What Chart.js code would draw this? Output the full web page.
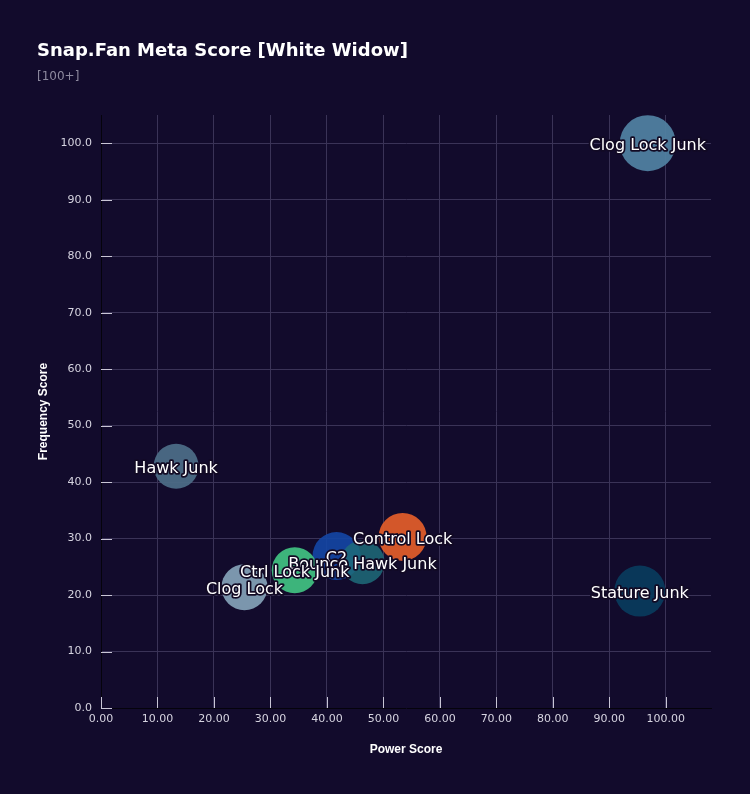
<!DOCTYPE html>
<html>
<head>
<meta charset="utf-8">
<script src="https://cdn.jsdelivr.net/npm/chart.js@4.4.1/dist/chart.umd.min.js"></script>
<style>
  html, body { margin: 0; padding: 0; background: #120b2c; }
  #wrap { position: relative; width: 750px; height: 794px; background: #120b2c; }
  #title { position: absolute; left: 37px; top: 39px; font: bold 18px "DejaVu Sans", sans-serif; color: #ffffff; line-height: 21px; white-space: nowrap; }
  #subtitle { position: absolute; left: 37px; top: 69px; font: 12px "DejaVu Sans", sans-serif; color: #8d899e; line-height: 15px; }
  canvas { position: absolute; left: 0; top: 0; }
</style>
</head>
<body>
<div id="wrap">
  <canvas id="c" width="750" height="794"></canvas>
  <div id="title">Snap.Fan Meta Score [White Widow]</div>
  <div id="subtitle">[100+]</div>
</div>
<script>
// ---- data ----
const deckNames = ["Clog Lock Junk", "Stature Junk", "Hawk Junk", "Control Lock", "C2", "Bounce Hawk Junk", "Ctrl Lock Junk", "Clog Lock"];
const powerScore = [96.8, 95.4, 13.3, 53.4, 41.7, 46.3, 34.3, 25.4];
const frequencyScore = [100.0, 20.7, 42.8, 30.3, 26.9, 25.8, 24.4, 21.4];
const bubbleSize = [28, 25.5, 22.5, 24, 24, 22, 23, 23];
const bubbleColors = ["rgba(80,127,160,0.95)", "rgba(10,58,92,0.95)", "rgba(76,108,134,0.95)", "rgba(222,92,42,0.95)", "rgba(20,70,165,0.9)", "rgba(30,108,122,0.85)", "rgba(64,190,128,0.95)", "rgba(130,158,180,0.95)"];
const xTickValues = [0, 10, 20, 30, 40, 50, 60, 70, 80, 90, 100];
const yTickValues = [0, 10, 20, 30, 40, 50, 60, 70, 80, 90, 100];

const points = deckNames.map((n, i) => ({ x: powerScore[i], y: frequencyScore[i], r: bubbleSize[i] }));

const innerTicks = {
  id: 'innerTicks',
  beforeDatasetsDraw(chart) {
    const { ctx, scales: { x, y }, chartArea } = chart;
    ctx.save();
    ctx.strokeStyle = '#c9c6d6';
    ctx.lineWidth = 1;
    ctx.beginPath();
    xTickValues.forEach(v => {
      const px = Math.round(x.getPixelForValue(v)) + 0.5;
      ctx.moveTo(px, chartArea.bottom);
      ctx.lineTo(px, chartArea.bottom - 11);
    });
    yTickValues.forEach(v => {
      const py = Math.round(y.getPixelForValue(v)) + 0.5;
      ctx.moveTo(chartArea.left, py);
      ctx.lineTo(chartArea.left + 11, py);
    });
    ctx.stroke();
    ctx.restore();
  }
};

const bubbleLabels = {
  id: 'bubbleLabels',
  afterDatasetsDraw(chart) {
    const { ctx } = chart;
    const meta = chart.getDatasetMeta(0);
    ctx.save();
    ctx.font = '16px "DejaVu Sans", sans-serif';
    ctx.textAlign = 'center';
    ctx.textBaseline = 'middle';
    ctx.lineJoin = 'round';
    meta.data.forEach((el, i) => {
      const px = el.x, py = el.y + 3;
      ctx.strokeStyle = '#120a24';
      ctx.lineWidth = 3.5;
      ctx.strokeText(deckNames[i], px, py);
      ctx.fillStyle = '#ffffff';
      ctx.fillText(deckNames[i], px, py);
    });
    ctx.restore();
  }
};

new Chart(document.getElementById('c'), {
  type: 'bubble',
  data: {
    datasets: [{
      label: 'Decks',
      data: points,
      backgroundColor: bubbleColors,
      borderWidth: 0,
      hoverRadius: 0
    }]
  },
  options: {
    responsive: false,
    animation: false,
    events: [],
    layout: { padding: { top: 115, right: 39, left: 0, bottom: 0 } },
    plugins: { legend: { display: false }, tooltip: { enabled: false }, title: { display: false } },
    scales: {
      x: {
        type: 'linear',
        min: 0,
        max: 108,
        afterFit(scale) { scale.height = 86; },
        afterBuildTicks(scale) { scale.ticks = xTickValues.map(v => ({ value: v })); },
        ticks: {
          stepSize: 10,
          includeBounds: false,
          color: '#d6d4e0',
          font: { family: '"DejaVu Sans", sans-serif', size: 11 },
          padding: 5,
          callback: v => Number(v).toFixed(2),
          maxRotation: 0,
          autoSkip: false
        },
        grid: { color: '#3a3357', lineWidth: 1, drawTicks: false },
        border: { display: true, color: '#05030c', width: 1 },
        title: {
          display: true,
          text: 'Power Score',
          color: '#ffffff',
          font: { family: '"Liberation Sans Narrow", "Liberation Sans", sans-serif', size: 12, weight: 'bold' },
          padding: { bottom: 37, top: 0 }
        }
      },
      y: {
        type: 'linear',
        min: 0,
        max: 105,
        afterFit(scale) { scale.width = 101; },
        afterBuildTicks(scale) { scale.ticks = yTickValues.map(v => ({ value: v })); },
        ticks: {
          stepSize: 10,
          includeBounds: false,
          color: '#d6d4e0',
          font: { family: '"DejaVu Sans", sans-serif', size: 11 },
          padding: 9,
          callback: v => Number(v).toFixed(1),
          autoSkip: false
        },
        grid: { color: '#3a3357', lineWidth: 1, drawTicks: false },
        border: { display: true, color: '#05030c', width: 1 },
        title: {
          display: true,
          text: 'Frequency Score',
          color: '#ffffff',
          font: { family: '"Liberation Sans Narrow", "Liberation Sans", sans-serif', size: 12, weight: 'bold' },
          padding: { top: 36, bottom: 0 }
        }
      }
    }
  },
  plugins: [innerTicks, bubbleLabels]
});
</script>
</body>
</html>
